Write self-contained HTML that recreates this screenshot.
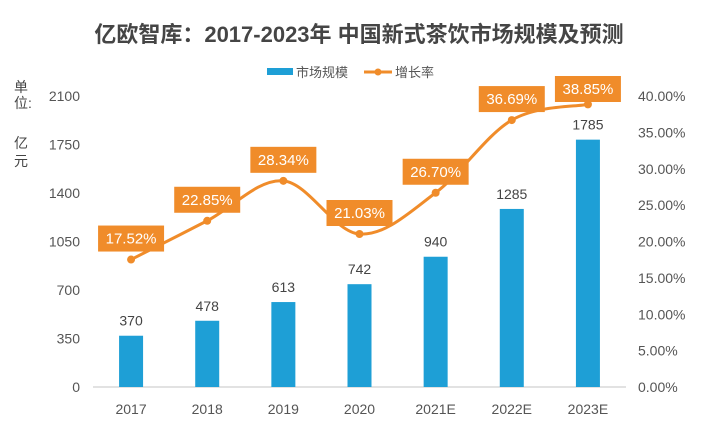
<!DOCTYPE html>
<html><head><meta charset="utf-8"><style>
body{margin:0;background:#fff;}
svg{display:block;font-family:"Liberation Sans","Noto Sans CJK SC",sans-serif;}
</style></head><body>
<svg id="c" width="718" height="433">
<text x="359" y="42" text-anchor="middle" font-size="22" font-weight="bold" fill="#454545">亿欧智库：2017-2023年 中国新式茶饮市场规模及预测</text>
<g>
<rect x="267" y="68" width="26" height="7" fill="#1e9fd6"/>
<text x="296" y="77" font-size="13" fill="#555">市场规模</text>
<line x1="364" y1="72" x2="392" y2="72" stroke="#f08c2a" stroke-width="3"/>
<circle cx="378" cy="72" r="3.5" fill="#f08c2a"/>
<text x="395" y="77" font-size="13" fill="#555">增长率</text>
</g>
<text x="14" y="92" font-size="14" fill="#444">单</text>
<text x="14" y="108" font-size="14" fill="#444">位:</text>
<text x="14" y="148" font-size="14" fill="#444">亿</text>
<text x="14" y="166" font-size="14" fill="#444">元</text>
<g id="plot"></g>
</svg>
<script>
const categories=["2017","2018","2019","2020","2021E","2022E","2023E"];
const marketSize=[370,478,613,742,940,1285,1785];
const growthRate=[17.52,22.85,28.34,21.03,26.70,36.69,38.85];
const leftTicks=[0,350,700,1050,1400,1750,2100];
const rightTicks=[0,5,10,15,20,25,30,35,40];
const NS="http://www.w3.org/2000/svg";
const g=document.getElementById('plot');
const x0=93,x1=626,yB=387,yT=96;
const step=(x1-x0)/categories.length;
const xc=i=>x0+step*(i+0.5);
const yL=v=>yB-(v/2100)*(yB-yT);
const yR=v=>yB-(v/40)*(yB-yT);
function mk(t,a,txt){const e=document.createElementNS(NS,t);for(const k in a)e.setAttribute(k,a[k]);if(txt!==undefined)e.textContent=txt;g.appendChild(e);return e;}
leftTicks.forEach(v=>{const e=mk('text',{x:80,y:yL(v)+5,'text-anchor':'end','font-size':14,fill:'#555'},v);

});
rightTicks.forEach(v=>{const e=mk('text',{x:638,y:yR(v)+5,'font-size':14,fill:'#555'},v.toFixed(2)+'%');

});
const ax=mk('line',{x1:x0,y1:yB,x2:x1,y2:yB,stroke:'#d9d9d9','stroke-width':1.5});


categories.forEach((c,i)=>{
const b=mk('rect',{x:xc(i)-12,y:yL(marketSize[i]),width:24,height:yB-yL(marketSize[i]),fill:'#1e9fd6'});


const v=mk('text',{x:xc(i),y:yL(marketSize[i])-10,'text-anchor':'middle','font-size':14,fill:'#444'},marketSize[i]);


const t=mk('text',{x:xc(i),y:yB+27,'text-anchor':'middle','font-size':14,fill:'#555'},c);


});
const P=growthRate.map((v,i)=>[xc(i),yR(v)]);
let d='M'+P[0][0]+','+P[0][1];
for(let i=0;i<P.length-1;i++){const p0=P[Math.max(0,i-1)],p1=P[i],p2=P[i+1],p3=P[Math.min(P.length-1,i+2)];
d+=` C${p1[0]+(p2[0]-p0[0])/6},${p1[1]+(p2[1]-p0[1])/6} ${p2[0]-(p3[0]-p1[0])/6},${p2[1]-(p3[1]-p1[1])/6} ${p2[0]},${p2[1]}`;}
const ln=mk('path',{d:d,fill:'none',stroke:'#f08c2a','stroke-width':3});


P.forEach((p,i)=>{
const c=mk('circle',{cx:p[0],cy:p[1],r:4,fill:'#f08c2a'});


const by=Math.max(p[1]-34,76);
const r=mk('rect',{x:p[0]-33,y:by,width:66,height:26,fill:'#f08c2a'});


const t=mk('text',{x:p[0],y:by+18,'text-anchor':'middle','font-size':15,fill:'#fff'},growthRate[i].toFixed(2)+'%');


});
</script>
</body></html>
